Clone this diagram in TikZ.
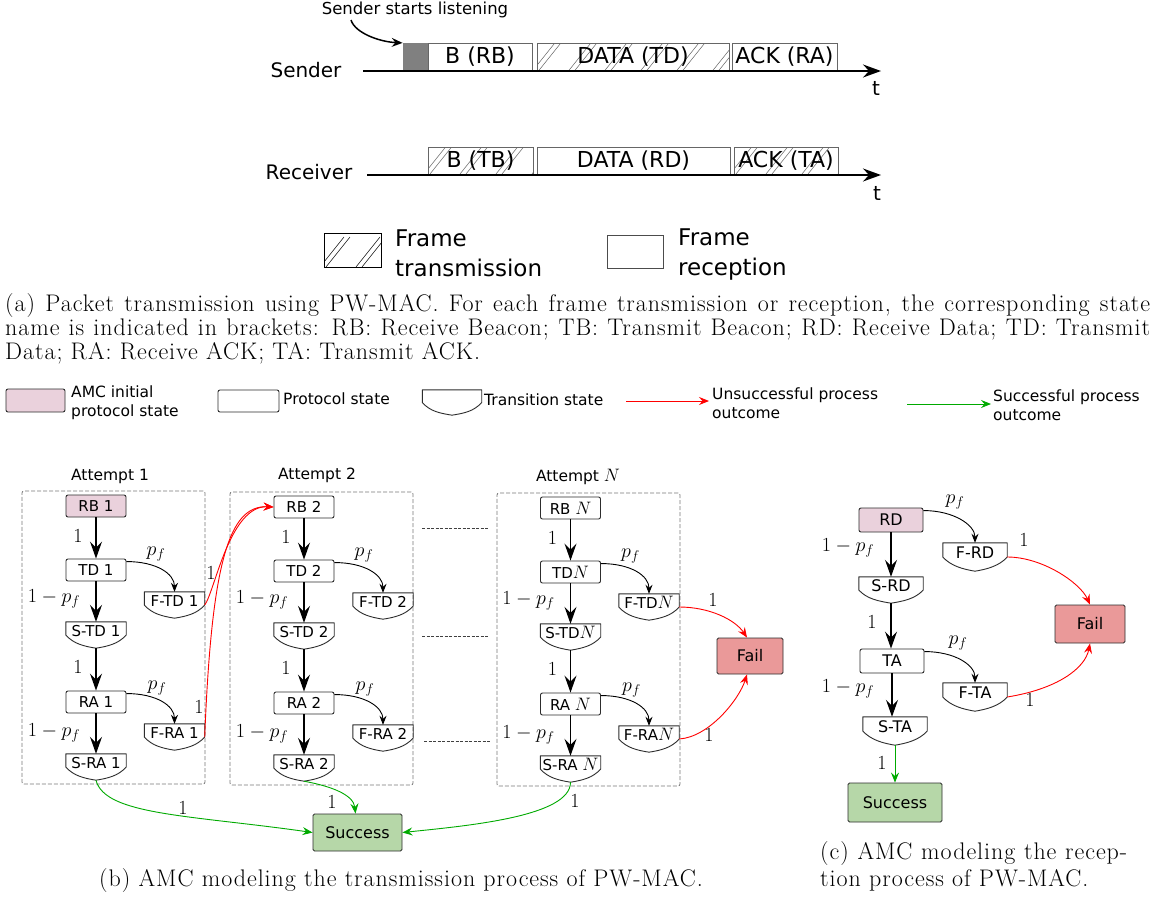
\RequirePackage{fix-cm}
\documentclass[tikz,border=0pt]{standalone}
\usepackage{fontspec}
\newfontfamily\dejavu{DejaVu Sans}
\newfontfamily\capfamily[LetterSpace=4]{Latin Modern Roman}
\usetikzlibrary{arrows.meta}
\definecolor{initpink}{RGB}{234,209,220}
\definecolor{failred}{RGB}{234,153,153}
\definecolor{succgreen}{RGB}{182,215,168}
\definecolor{arrgreen}{RGB}{0,170,0}
\definecolor{bord}{RGB}{45,45,45}
\definecolor{dashgray}{RGB}{120,120,120}
\definecolor{boxgray}{RGB}{128,128,128}
\newcommand\dvf[2]{\dejavu\fontsize{#1}{#2}\selectfont}
\newcommand\mathlblfont{\fontsize{20}{24}\selectfont}
\newcommand\capf{\capfamily\fontsize{24}{24}\selectfont}
\newcommand\NN{{\fontsize{18}{20}\selectfont$N$}}

\tikzset{
  prot/.style={draw=bord, line width=0.9pt, rounded corners=2pt, minimum width=60pt,
    minimum height=22pt, inner sep=0pt, font=\dvf{15}{18}},
  init/.style={prot, fill=initpink},
  trans/.style={inner sep=0pt, minimum width=60pt, minimum height=26pt,
    text height=10pt, text depth=7pt, font=\dvf{15}{18},
    append after command={\pgfextra{\let\tln\tikzlastnode
      \draw[draw=bord, line width=0.9pt, line join=round]
      (\tln.east) -- (\tln.north east) -- (\tln.north west) -- (\tln.west)
      .. controls ([xshift=8pt,yshift=-9pt]\tln.west) and ([xshift=-12pt,yshift=2pt]\tln.south) .. (\tln.south)
      .. controls ([xshift=12pt,yshift=2pt]\tln.south) and ([xshift=-8pt,yshift=-9pt]\tln.east) .. (\tln.east) -- cycle;}}},
  outbox/.style={draw=bord, line width=0.9pt, rounded corners=1.5pt, inner sep=0pt, font=\dvf{16}{19}},
  failbox/.style={outbox, fill=failred},
  succbox/.style={outbox, fill=succgreen},
  bigarr/.style={line width=1.3pt, -{Stealth[length=17pt,width=12pt,inset=6pt]}},
  smallarr/.style={line width=0.9pt, -{Stealth[length=9pt,width=7pt,inset=3pt]}},
  redarr/.style={red, line width=0.9pt, -{Stealth[length=10pt,width=8pt,inset=3.5pt]}},
  greenarr/.style={arrgreen, line width=0.9pt, -{Stealth[length=10pt,width=8pt,inset=3.5pt]}},
  lbl/.style={inner sep=0pt, font=\mathlblfont},
  dashbox/.style={draw=dashgray, dash pattern=on 4pt off 2pt, line width=0.8pt, rounded corners=2pt, inner sep=0pt},
  dotlink/.style={draw=black!75, dash pattern=on 3pt off 1.5pt, line width=0.8pt},
  frame/.style={draw=black!60, line width=0.8pt, inner sep=0pt, minimum height=27pt, font=\dvf{22}{26}},
  hatch/.style={path picture={
    \foreach \k in {-40,-4,...,220}{
      \draw[line width=0.5pt] ([xshift=\k pt]path picture bounding box.south west) -- ++(24pt,30pt);
      \draw[line width=0.5pt] ([xshift=\k pt+6pt]path picture bounding box.south west) -- ++(24pt,30pt);}}},
  tlarr/.style={line width=1.6pt, -{Stealth[length=18pt,width=13pt,inset=6pt]}},
  sans/.style={inner sep=0pt},
}

\newcommand\attempt[7]{%
  \node[#5] (RB#1) at (#2,506+#4) {RB#6};
  \node[prot] (TD#1) at (#2,570+#4) {TD#7};
  \node[trans] (FTD#1) at (#3,605+#4) {F-TD#7};
  \node[trans] (STD#1) at (#2,635+#4) {S-TD#7};
  \node[prot] (RA#1) at (#2,702+#4) {RA#6};
  \node[trans] (FRA#1) at (#3,737+#4) {F-RA#7};
  \node[trans] (SRA#1) at (#2,767+#4) {S-RA#6};
  \draw[bigarr] (RB#1) -- (TD#1);
  \draw[bigarr] (TD#1) -- (STD#1);
  \draw[bigarr] (STD#1.south) -- (RA#1);
  \draw[bigarr] (RA#1) -- (SRA#1);
  \draw[smallarr] ([yshift=-3pt]TD#1.north east) .. controls +(30pt,0pt) and +(0pt,18pt) .. (FTD#1.north);
  \draw[smallarr] ([yshift=-3pt]RA#1.north east) .. controls +(30pt,0pt) and +(0pt,18pt) .. (FRA#1.north);
  \node[lbl] (la#1) at (#2-18,536+#4) {$1$};
  \node[lbl] (lb#1) at (#2+60,554+#4) {$p_f$};
  \node[lbl] (lc#1) at (#2-42,599+#4) {$1-p_f$};
  \node[lbl] (ld#1) at (#2-18,667+#4) {$1$};
  \node[lbl] (le#1) at (#2+61,688+#4) {$p_f$};
  \node[lbl] (lf#1) at (#2-42,733+#4) {$1-p_f$};
}

\begin{document}
\begin{tikzpicture}[x=1pt,y=-1pt]
\useasboundingbox (0,0) rectangle (1156,897);
\fill[white] (0,0) rectangle (1156,897);

% ---------- (a) timeline ----------
\node[sans, font=\dvf{16.5}{20}] (listen) at (415,10) {Sender starts listening};
\node[draw=boxgray, fill=boxgray, line width=0.8pt, inner sep=0pt, minimum width=25pt, minimum height=27pt] (gbox) at (415.5,56.8) {};
\node[frame, minimum width=104pt] (bRB) at (480,56.8) {B (RB)};
\node[frame, hatch, minimum width=192pt] (bTD) at (633,56.8) {DATA (TD)};
\node[frame, minimum width=105pt] (bRA) at (784.5,56.8) {ACK (RA)};
\coordinate (sA) at (363,71);
\coordinate (sB) at (881,71);
\draw[tlarr] (sA) -- (sB);
\node[sans, font=\dvf{20}{24}] (sender) at (306,70) {Sender};
\node[sans, font=\dvf{20}{24}] (t1) at (876,88) {t};
\coordinate (lsA) at (351,20);
\draw[line width=1.5pt, -{Stealth[length=11pt,width=9pt,inset=4pt]}] (lsA) .. controls +(4pt,-13pt) and +(-23pt,1pt) .. (gbox.north west);

\node[frame, hatch, minimum width=105pt] (bTB) at (480.5,160.5) {B (TB)};
\node[frame, minimum width=193pt] (bRD) at (633.5,160.5) {DATA (RD)};
\node[frame, hatch, minimum width=104pt] (bTA) at (786,160.5) {ACK (TA)};
\coordinate (rA) at (367,175);
\coordinate (rB) at (881,175);
\draw[tlarr] (rA) -- (rB);
\node[sans, font=\dvf{20}{24}] (receiver) at (309,172) {Receiver};
\node[sans, font=\dvf{20}{24}] (t2) at (877,193) {t};

\node[draw=black, line width=0.9pt, hatch, minimum width=57pt, minimum height=34pt, inner sep=0pt] (lgT) at (352.5,250) {};
\node[sans, anchor=west, align=left, font=\dvf{23}{30}] (lgTt) at (395,253) {Frame\\transmission};
\node[draw=black!70, line width=0.9pt, minimum width=56pt, minimum height=33pt, inner sep=0pt] (lgR) at (635,251.5) {};
\node[sans, anchor=west, align=left, font=\dvf{23}{30}] (lgRt) at (678,255) {Frame\\reception};

\node[anchor=base west, inner sep=0pt, font=\capf] (capa1) at (5,311) {\makebox[1145pt][s]{(a) Packet transmission using PW-MAC. For each frame transmission or reception, the corresponding state}};
\node[anchor=base west, inner sep=0pt, font=\capf] (capa2) at (5,335) {\makebox[1145pt][s]{name is indicated in brackets: RB: Receive Beacon; TB: Transmit Beacon; RD: Receive Data; TD: Transmit}};
\node[anchor=base west, inner sep=0pt, font=\capf] (capa3) at (5,359) {Data; RA: Receive ACK; TA: Transmit ACK.};

% ---------- legend ----------
\node[init, minimum width=59pt, minimum height=23pt] (lgI) at (35.5,400.5) {};
\node[sans, anchor=west, align=left, font=\dvf{15.5}{19}] (lgIt) at (71,402.5) {AMC initial\\protocol state};
\node[prot, minimum width=61pt] (lgP) at (248.5,401) {};
\node[sans, anchor=west, font=\dvf{15.5}{19}] (lgPt) at (283,399) {Protocol state};
\node[trans, minimum width=59pt, minimum height=25pt] (lgS) at (452,402.5) {};
\node[sans, anchor=west, font=\dvf{15.5}{19}] (lgSt) at (484,400) {Transition state};
\coordinate (lgr1) at (626,401);
\coordinate (lgr2) at (709,401);
\draw[redarr] (lgr1) -- (lgr2);
\node[sans, anchor=west, align=left, font=\dvf{15.5}{19}] (lgUt) at (712,403) {Unsuccessful process\\outcome};
\coordinate (lgg1) at (907,404);
\coordinate (lgg2) at (991,404);
\draw[greenarr] (lgg1) -- (lgg2);
\node[sans, anchor=west, align=left, font=\dvf{15.5}{19}] (lgGt) at (993,405) {Successful process\\outcome};

% ---------- (b) ----------
\node[dashbox, minimum width=183pt, minimum height=293pt] (box1) at (113.5,637.5) {};
\node[dashbox, minimum width=183pt, minimum height=293pt] (box2) at (321.5,638.5) {};
\node[dashbox, minimum width=183pt, minimum height=293pt] (boxN) at (588.5,639.5) {};
\node[sans, font=\dvf{15.5}{19}] (att1) at (110,476) {Attempt 1};
\node[sans, font=\dvf{15.5}{19}] (att2) at (317,475) {Attempt 2};
\node[sans, font=\dvf{15.5}{19}] (attN) at (578,477) {Attempt \NN};

\attempt{a}{96}{174.5}{0}{init}{~1}{~1}
\attempt{b}{304}{383}{1}{prot}{~2}{~2}
\attempt{n}{570.5}{649}{2}{prot}{~\NN}{\NN}

\coordinate (dl1a) at (422,528); \coordinate (dl1b) at (488,528);
\coordinate (dl2a) at (422,636); \coordinate (dl2b) at (488,636);
\coordinate (dl3a) at (424,741); \coordinate (dl3b) at (490,741);
\draw[dotlink] (dl1a) -- (dl1b);
\draw[dotlink] (dl2a) -- (dl2b);
\draw[dotlink] (dl3a) -- (dl3b);

\node[failbox, minimum width=66pt, minimum height=36pt] (failb) at (750,656) {Fail};
\node[succbox, minimum width=89pt, minimum height=37pt] (succb) at (357.5,832.5) {Success};

\draw[redarr] (FTDa.east) .. controls +(10pt,13pt) and +(-44pt,2pt) .. (RBb.west);
\draw[redarr] (FRAa.east) .. controls +(7pt,177pt) and +(-44pt,2pt) .. (RBb.west);
\node[lbl] (lr1) at (211,573) {$1$};
\node[lbl] (lr2) at (199,707) {$1$};
\draw[redarr] (FTDn.east) .. controls +(30pt,0pt) and +(-12pt,18pt) .. ([xshift=-3pt]failb.north);
\draw[redarr] (FRAn.east) .. controls +(30pt,2pt) and +(-8pt,-25pt) .. ([xshift=-3pt]failb.south);
\node[lbl] (lr3) at (713,600) {$1$};
\node[lbl] (lr4) at (709,735) {$1$};

\draw[greenarr] (SRAa.south) .. controls +(9pt,-35pt) and +(-123pt,17.5pt) .. (succb.west);
\draw[greenarr] (SRAb.south) .. controls +(27pt,-5pt) and +(-2pt,19pt) .. ([xshift=-2pt]succb.north);
\draw[greenarr] (SRAn.south) .. controls +(0pt,-34pt) and +(68pt,7pt) .. (succb.east);
\node[lbl] (lg1) at (183,808) {$1$};
\node[lbl] (lg2) at (332,802) {$1$};
\node[lbl] (lg3) at (575,801) {$1$};

\node[anchor=base, inner sep=0pt, font=\capf] (capb) at (401,886) {(b) AMC modeling the transmission process of PW-MAC.};

% ---------- (c) ----------
\node[init, minimum width=64pt, minimum height=24pt, font=\dvf{16}{19}] (RDc) at (891,520) {RD};
\node[trans, minimum width=64pt, minimum height=28pt, font=\dvf{16}{19}] (FRDc) at (975,557) {F-RD};
\node[trans, minimum width=64pt, minimum height=26pt, font=\dvf{16}{19}] (SRDc) at (891,590) {S-RD};
\node[prot, minimum width=64pt, minimum height=24pt, font=\dvf{16}{19}] (TAc) at (892,661) {TA};
\node[trans, minimum width=64pt, minimum height=28pt, font=\dvf{16}{19}] (FTAc) at (975,697) {F-TA};
\node[trans, minimum width=64pt, minimum height=28pt, font=\dvf{16}{19}] (STAc) at (895,731) {S-TA};
\node[succbox, minimum width=94pt, minimum height=39pt] (succc) at (895,802.5) {Success};
\node[failbox, minimum width=70pt, minimum height=38pt] (failc) at (1090,624) {Fail};

\draw[bigarr] (RDc) -- (SRDc);
\draw[bigarr] (SRDc.south) -- (SRDc.south |- TAc.north);
\draw[bigarr] (TAc.south) -- (TAc.south |- STAc.north);
\draw[greenarr] (STAc.south) -- (STAc.south |- succc.north);
\draw[smallarr] ([yshift=-3pt]RDc.north east) .. controls +(30pt,0pt) and +(0pt,18pt) .. (FRDc.north);
\draw[smallarr] ([yshift=-3pt]TAc.north east) .. controls +(30pt,0pt) and +(0pt,18pt) .. (FTAc.north);
\draw[redarr] (FRDc.east) .. controls +(35pt,0pt) and +(-10pt,22pt) .. (failc.north);
\draw[redarr] (FTAc.east) .. controls +(50pt,8pt) and +(-5pt,-25pt) .. (failc.south);

\node[lbl] (lc1) at (955,502) {$p_f$};
\node[lbl] (lc2) at (848,548) {$1-p_f$};
\node[lbl] (lc3) at (872,622) {$1$};
\node[lbl] (lc4) at (958,643) {$p_f$};
\node[lbl] (lc5) at (848,689) {$1-p_f$};
\node[lbl] (lc6) at (882,763) {$1$};
\node[lbl] (lc7) at (1024,540) {$1$};
\node[lbl] (lc8) at (1030,700) {$1$};

\node[anchor=base west, inner sep=0pt, font=\capf] (capc1) at (820,859) {\makebox[307pt][s]{(c) AMC modeling the recep-}};
\node[anchor=base west, inner sep=0pt, font=\capf] (capc2) at (820,886) {tion process of PW-MAC.};
\end{tikzpicture}
\end{document}
